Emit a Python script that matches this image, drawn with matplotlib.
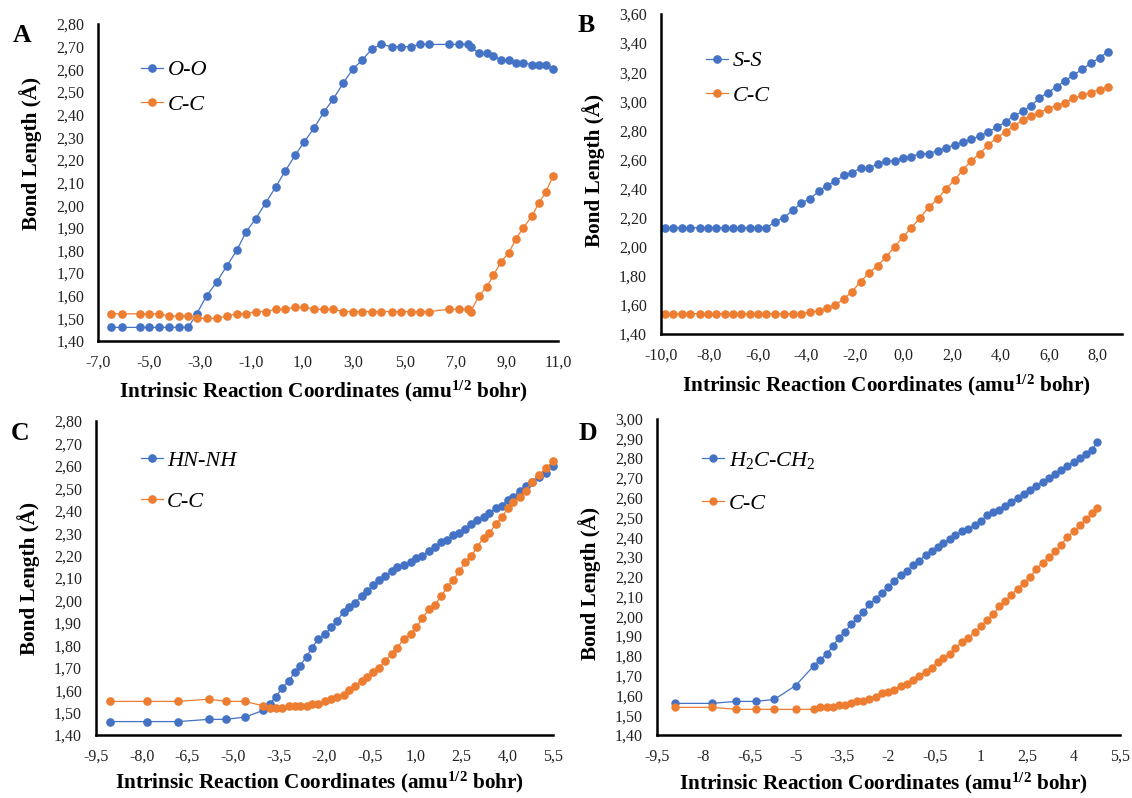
import numpy as np
import matplotlib
matplotlib.use('Agg')
import matplotlib.pyplot as plt
from matplotlib.ticker import FuncFormatter

plt.rcParams['font.family'] = 'Liberation Serif'
plt.rcParams['mathtext.fontset'] = 'custom'
plt.rcParams['mathtext.rm'] = 'Liberation Serif'
plt.rcParams['mathtext.it'] = 'Liberation Serif:italic'
plt.rcParams['mathtext.bf'] = 'Liberation Serif:bold'

BLUE = '#4472C4'
ORANGE = '#ED7D31'

# ---- Panel A : O-O / C-C ----
irc_a = [-6.50, -6.07, -5.36, -4.99, -4.60, -4.21, -3.83, -3.47, -3.14, -2.75,
         -2.36, -1.97, -1.57, -1.22, -0.83, -0.44, -0.05, 0.32, 0.71, 1.07,
         1.45, 1.83, 2.21, 2.60, 2.96, 3.33, 3.72, 4.07, 4.49, 4.84,
         5.23, 5.60, 5.96, 6.73, 7.12, 7.49, 7.58, 7.91, 8.21, 8.47,
         8.77, 9.08, 9.34, 9.64, 9.97, 10.25, 10.53, 10.81]
oo_a = [1.46, 1.46, 1.46, 1.46, 1.46, 1.46, 1.46, 1.46, 1.52, 1.60,
        1.66, 1.73, 1.80, 1.88, 1.94, 2.01, 2.08, 2.15, 2.22, 2.28,
        2.34, 2.41, 2.47, 2.54, 2.60, 2.64, 2.69, 2.71, 2.70, 2.70,
        2.70, 2.71, 2.71, 2.71, 2.71, 2.71, 2.70, 2.67, 2.67, 2.66,
        2.64, 2.64, 2.63, 2.63, 2.62, 2.62, 2.62, 2.60]
cc_a = [1.52, 1.52, 1.52, 1.52, 1.52, 1.51, 1.51, 1.51, 1.50, 1.50,
        1.50, 1.51, 1.52, 1.52, 1.53, 1.53, 1.54, 1.54, 1.55, 1.55,
        1.54, 1.54, 1.54, 1.53, 1.53, 1.53, 1.53, 1.53, 1.53, 1.53,
        1.53, 1.53, 1.53, 1.54, 1.54, 1.54, 1.53, 1.60, 1.64, 1.69,
        1.75, 1.79, 1.85, 1.90, 1.95, 2.01, 2.06, 2.13]

# ---- Panel B : S-S / C-C ----
irc_b = [-9.85, -9.50, -9.13, -8.79, -8.40, -8.06, -7.72, -7.37, -7.03, -6.69,
         -6.34, -6.00, -5.66, -5.30, -4.94, -4.57, -4.21, -3.86, -3.50, -3.17,
         -2.81, -2.47, -2.13, -1.77, -1.43, -1.07, -0.72, -0.37, -0.01, 0.32,
         0.69, 1.03, 1.41, 1.76, 2.11, 2.45, 2.79, 3.14, 3.49, 3.85,
         4.21, 4.55, 4.91, 5.25, 5.60, 5.95, 6.31, 6.65, 7.00, 7.37,
         7.71, 8.08, 8.43]
ss_b = [2.13, 2.13, 2.13, 2.13, 2.13, 2.13, 2.13, 2.13, 2.13, 2.13,
        2.13, 2.13, 2.13, 2.17, 2.20, 2.25, 2.30, 2.33, 2.38, 2.42,
        2.45, 2.49, 2.51, 2.54, 2.54, 2.57, 2.59, 2.59, 2.61, 2.62,
        2.64, 2.64, 2.66, 2.68, 2.70, 2.72, 2.74, 2.76, 2.79, 2.82,
        2.86, 2.90, 2.93, 2.97, 3.02, 3.06, 3.10, 3.14, 3.18, 3.22,
        3.26, 3.30, 3.34]
cc_b = [1.54, 1.54, 1.54, 1.54, 1.54, 1.54, 1.54, 1.54, 1.54, 1.54,
        1.54, 1.54, 1.54, 1.54, 1.54, 1.54, 1.54, 1.55, 1.56, 1.58,
        1.60, 1.64, 1.69, 1.76, 1.82, 1.87, 1.93, 2.00, 2.07, 2.13,
        2.20, 2.27, 2.33, 2.40, 2.46, 2.53, 2.59, 2.64, 2.70, 2.75,
        2.79, 2.83, 2.87, 2.90, 2.92, 2.95, 2.97, 2.99, 3.02, 3.04,
        3.06, 3.08, 3.10]

# ---- Panel C : HN-NH / C-C ----
irc_c = [-9.03, -7.81, -6.80, -5.80, -5.23, -4.61,
         -4.01, -3.79, -3.60, -3.39, -3.18, -2.98, -2.80, -2.59, -2.40, -2.20,
         -1.98, -1.78, -1.59, -1.37, -1.18, -1.00, -0.78, -0.59, -0.40, -0.21,
         -0.02, 0.20, 0.39, 0.61, 0.83, 1.02, 1.21, 1.42, 1.62, 1.84,
         2.02, 2.22, 2.42, 2.62, 2.82, 3.02, 3.22, 3.41, 3.62, 3.82,
         4.01, 4.20, 4.41, 4.61, 4.81, 5.03, 5.28, 5.50]
nn_c = [1.46, 1.46, 1.46, 1.47, 1.47, 1.48,
        1.51, 1.54, 1.57, 1.61, 1.64, 1.68, 1.71, 1.75, 1.79, 1.83,
        1.85, 1.88, 1.91, 1.95, 1.97, 1.99, 2.02, 2.04, 2.07, 2.09,
        2.11, 2.13, 2.15, 2.16, 2.17, 2.19, 2.20, 2.22, 2.24, 2.26,
        2.27, 2.29, 2.30, 2.32, 2.34, 2.36, 2.37, 2.39, 2.41, 2.42,
        2.45, 2.46, 2.49, 2.51, 2.53, 2.55, 2.57, 2.60]
cc_c = [1.55, 1.55, 1.55, 1.56, 1.55, 1.55,
        1.53, 1.52, 1.52, 1.52, 1.53, 1.53, 1.53, 1.53, 1.54, 1.54,
        1.55, 1.56, 1.57, 1.58, 1.60, 1.62, 1.64, 1.66, 1.68, 1.70,
        1.73, 1.76, 1.79, 1.83, 1.85, 1.88, 1.92, 1.96, 1.98, 2.02,
        2.06, 2.09, 2.13, 2.17, 2.20, 2.24, 2.28, 2.30, 2.34, 2.37,
        2.41, 2.44, 2.46, 2.49, 2.53, 2.56, 2.59, 2.62]

# ---- Panel D : H2C-CH2 / C-C ----
irc_d = [-8.93, -7.73, -6.93, -6.30, -5.70, -5.01,
         -4.42, -4.22, -4.00, -3.80, -3.62, -3.42, -3.21, -3.01, -2.82, -2.62,
         -2.41, -2.20, -2.01, -1.81, -1.61, -1.40, -1.21, -1.01, -0.80, -0.60,
         -0.41, -0.22, -0.02, 0.16, 0.38, 0.58, 0.79, 0.99, 1.18, 1.39,
         1.59, 1.79, 1.98, 2.19, 2.39, 2.60, 2.79, 2.99, 3.20, 3.40,
         3.59, 3.78, 4.00, 4.20, 4.40, 4.58, 4.77]
ch_d = [1.56, 1.56, 1.57, 1.57, 1.58, 1.65,
        1.75, 1.78, 1.81, 1.85, 1.89, 1.92, 1.96, 1.99, 2.02, 2.06,
        2.09, 2.12, 2.15, 2.18, 2.21, 2.23, 2.26, 2.28, 2.31, 2.33,
        2.35, 2.37, 2.39, 2.41, 2.43, 2.44, 2.46, 2.48, 2.51, 2.53,
        2.54, 2.56, 2.58, 2.60, 2.62, 2.64, 2.66, 2.68, 2.70, 2.72,
        2.74, 2.76, 2.78, 2.80, 2.82, 2.84, 2.88]
cc_d = [1.54, 1.54, 1.53, 1.53, 1.53, 1.53,
        1.53, 1.54, 1.54, 1.54, 1.55, 1.55, 1.56, 1.57, 1.57, 1.58,
        1.59, 1.61, 1.62, 1.63, 1.65, 1.66, 1.68, 1.70, 1.72, 1.74,
        1.77, 1.79, 1.81, 1.84, 1.87, 1.89, 1.92, 1.95, 1.98, 2.01,
        2.05, 2.08, 2.11, 2.14, 2.17, 2.20, 2.24, 2.27, 2.30, 2.33,
        2.36, 2.40, 2.43, 2.46, 2.49, 2.52, 2.55]

XLABEL = r'Intrinsic Reaction Coordinates (amu$\mathbf{^{1/2}}$ bohr)'
YLABEL = 'Bond Length (Å)'


def fmt_fixed(v, pos):
    return ('%.1f' % v).replace('.', ',')


def fmt_general(v, pos):
    return ('%g' % round(v, 2)).replace('.', ',')


def fmt_y(v, pos):
    return ('%.2f' % v).replace('.', ',')


def panel(rect, letter, letter_pos, x, y1, y2, names, xlim, xticks, xfmt,
          ylim, yticks, xlab_y, ylab_y, leg_anchor, leg_space, ms=5.2):
    ax = fig.add_axes(rect)
    ax.plot(x, y1, '-o', color=BLUE, lw=0.9, ms=ms, label=names[0], clip_on=False)
    ax.plot(x, y2, '-o', color=ORANGE, lw=0.9, ms=ms, label=names[1], clip_on=False)
    ax.set_xlim(*xlim)
    ax.set_ylim(*ylim)
    ax.set_xticks(xticks)
    ax.set_yticks(yticks)
    ax.xaxis.set_major_formatter(FuncFormatter(xfmt))
    ax.yaxis.set_major_formatter(FuncFormatter(fmt_y))
    for s in ['top', 'right']:
        ax.spines[s].set_visible(False)
    for s in ['left', 'bottom']:
        ax.spines[s].set_linewidth(1.8)
        ax.spines[s].set_color('black')
    ax.tick_params(length=0, labelsize=11.5, pad=10, colors='#222222')
    ax.set_xlabel(XLABEL, fontsize=15.3, fontweight='bold')
    ax.set_ylabel(YLABEL, fontsize=15.3, fontweight='bold')
    ax.xaxis.set_label_coords(0.49, xlab_y)
    ax.yaxis.set_label_coords(-0.122, ylab_y)
    ax.legend(loc='upper left', bbox_to_anchor=leg_anchor, frameon=False,
              prop={'style': 'italic', 'size': 16}, handlelength=1.0,
              handletextpad=0.2, labelspacing=leg_space, borderaxespad=0)
    fig.text(letter_pos[0], letter_pos[1], letter, fontsize=18.5,
             fontweight='bold', ha='center', va='center')
    return ax


fig = plt.figure(figsize=(11.32, 7.98), dpi=100)

panel([0.0866, 0.5727, 0.4064, 0.3972], 'A', (22 / 1132, 1 - 36 / 798),
      irc_a, oo_a, cc_a, ['O-O', 'C-C'],
      (-7, 11), np.arange(-7, 11.5, 2), fmt_fixed,
      (1.4, 2.8), np.round(np.arange(1.4, 2.85, 0.1), 2), -0.12, 0.59,
      (0.074, 0.915), 0.64)

panel([0.5839, 0.5815, 0.4072, 0.4010], 'B', (586 / 1132, 1 - 25 / 798),
      irc_b, ss_b, cc_b, ['S-S', 'C-C'],
      (-10, 9), np.arange(-10, 8.5, 2), fmt_fixed,
      (1.4, 3.6), np.round(np.arange(1.4, 3.65, 0.2), 2), -0.12, 0.51,
      (0.078, 0.9125), 0.64)

panel([0.0848, 0.0789, 0.4037, 0.3935], 'C', (20 / 1132, 1 - 433 / 798),
      irc_c, nn_c, cc_c, ['HN-NH', 'C-C'],
      (-9.5, 5.5), np.arange(-9.5, 5.6, 1.5), fmt_fixed,
      (1.4, 2.8), np.round(np.arange(1.4, 2.85, 0.1), 2), -0.112, 0.5,
      (0.078, 0.936), 0.95)

panel([0.5804, 0.0789, 0.4090, 0.3966], 'D', (588 / 1132, 1 - 433 / 798),
      irc_d, ch_d, cc_d, [r'$H_2C$-$CH_2$', 'C-C'],
      (-9.5, 5.5), np.arange(-9.5, 5.6, 1.5), fmt_general,
      (1.4, 3.0), np.round(np.arange(1.4, 3.05, 0.1), 2), -0.112, 0.48,
      (0.078, 0.929), 1.0, ms=5)

fig.savefig('out.png', dpi=100)
